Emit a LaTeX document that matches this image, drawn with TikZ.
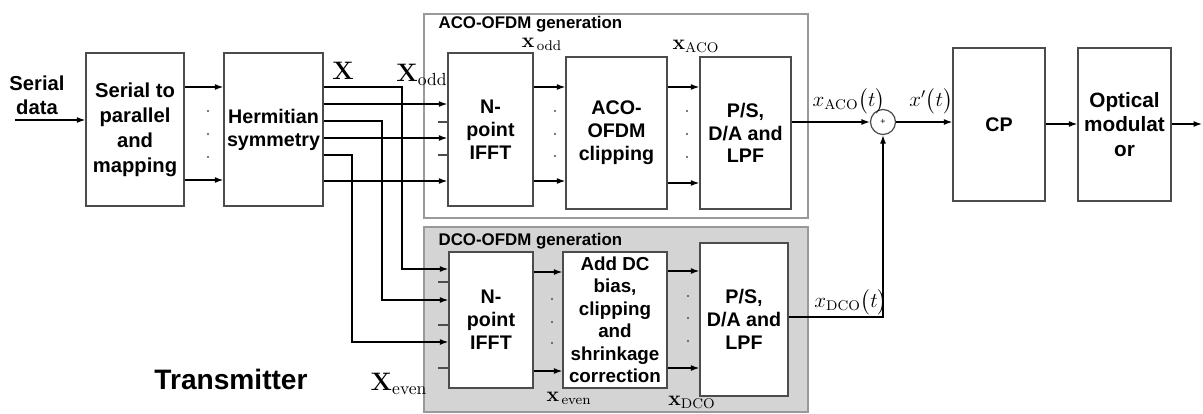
\documentclass[tikz,border=0pt]{standalone}
\usepackage{amsmath}
\usepackage[no-math]{fontspec}
\setmainfont{Liberation Sans}
\usetikzlibrary{arrows.meta,positioning}

\begin{document}
\begin{tikzpicture}[
    x=0.02cm, y=-0.02cm,
    blk/.style={draw=black!70, line width=0.8pt, fill=white, align=center, inner sep=1pt, font=\fontsize{11.2}{13}\selectfont\bfseries},
    grp/.style={draw=black!40, line width=0.9pt, inner sep=0pt},
    ttl/.style={anchor=west, inner sep=0pt, font=\fontsize{9.6}{11}\selectfont\bfseries},
    sig/.style={inner sep=0pt, font=\fontsize{14}{16}\selectfont},
    sml/.style={inner sep=0pt, font=\fontsize{11.5}{13}\selectfont},
    tick/.style={draw=black!70, line width=0.7pt},
    >={Latex[length=1.7mm,width=1.2mm]},
    every path/.style={line width=0.7pt}
]
\useasboundingbox (0,0) rectangle (1203,413);

% generation groups
\node[grp, minimum width=7.68cm, minimum height=4.08cm] (acoG) at (616,116) {};
\node[grp, fill=black!17, minimum width=7.68cm, minimum height=3.7cm] (dcoG) at (616,319.5) {};
\node[ttl] (acoT) at (438,24) {ACO-OFDM generation};
\node[ttl] (dcoT) at (438,241) {DCO-OFDM generation};

% blocks
\node[align=center, inner sep=0pt, font=\fontsize{11.5}{13.6}\selectfont\bfseries] (sd) at (37,95) {Serial\\data};
\node[blk, font=\fontsize{11.5}{14.2}\selectfont\bfseries, minimum width=1.96cm, minimum height=3.06cm] (sp) at (135,129.5) {Serial to\\parallel\\and\\mapping};
\node[blk, minimum width=1.98cm, minimum height=3.06cm] (herm) at (273.5,129.5) {Hermitian\\symmetry};

\node[blk, minimum width=1.7cm, minimum height=3.06cm] (ifftA) at (490.5,129.5) {N-\\point\\IFFT};
\node[blk, minimum width=2.02cm, minimum height=3.04cm] (clipA) at (616.5,133) {ACO-\\OFDM\\clipping};
\node[blk, minimum width=1.82cm, minimum height=3.04cm] (psA) at (745.5,133) {P/S,\\D/A and\\LPF};

\node[blk, minimum width=1.68cm, minimum height=2.72cm] (ifftD) at (491,320) {N-\\point\\IFFT};
\node[blk, font=\fontsize{10.7}{12.8}\selectfont\bfseries, minimum width=2.08cm, minimum height=2.72cm] (dcD) at (615,320) {Add DC\\bias,\\clipping\\and\\shrinkage\\correction};
\node[blk, minimum width=1.76cm, minimum height=3.06cm] (psD) at (744,319.5) {P/S,\\D/A and\\LPF};

\node[circle, draw=black!70, line width=0.7pt, minimum size=0.5cm, inner sep=0pt, font=\fontsize{5}{6}\selectfont] (sum) at (883,122) {+};
\node[blk, minimum width=1.84cm, minimum height=3.06cm] (cp) at (999,124.5) {CP};
\node[blk, font=\fontsize{11.8}{14}\selectfont\bfseries, minimum width=1.86cm, minimum height=3.06cm] (opt) at (1124.5,124.5) {Optical\\modulat\\or};

\node[font=\fontsize{16}{19}\selectfont\bfseries, inner sep=0pt] (tx) at (231,379) {Transmitter};

% signal labels
\node[sig] (lX) at (343,71) {$\mathbf{X}$};
\node[sig] (lXodd) at (422,75) {$\mathbf{X}_{\mathrm{odd}}$};
\node[sig] (lXeven) at (399,384) {$\mathbf{X}_{\mathrm{even}}$};
\node[sml] (lxodd) at (542,44) {$\mathbf{x}_{\,\mathrm{odd}}$};
\node[sml] (lxaco) at (696,46) {$\mathbf{x}_{\mathrm{ACO}}$};
\node[sml] (lxeven) at (569,398) {$\mathbf{x}_{\,\mathrm{even}}$};
\node[sml] (lxdco) at (692,402) {$\mathbf{x}_{\mathrm{DCO}}$};
\node[sml] (lacot) at (849,101) {$x_{\mathrm{ACO}}\bigl(t\bigr)$};
\node[sml] (lxt) at (931,101) {$x'\bigl(t\bigr)$};
\node[sml] (ldcot) at (851,302) {$x_{\mathrm{DCO}}\bigl(t\bigr)$};

% serial input
\coordinate (src) at (15,120);
\draw[->] (src) -- (src -| sp.west);

% parallel streams
\foreach \y in {87,180}
  \draw[->] (sp.east |- 0,\y) -- (herm.west |- 0,\y);
\foreach \y in {104,138,181}
  \draw[->] (herm.east |- 0,\y) -- (ifftA.west |- 0,\y);
\draw[->] (herm.east |- 0,87) -| (402,269) -- (ifftD.west |- 0,269);
\draw[->] (herm.east |- 0,121) -| (382,300) -- (ifftD.west |- 0,300);
\draw[->] (herm.east |- 0,155) -| (352,342) -- (ifftD.west |- 0,342);

% zero inputs
\foreach \y in {122,155}
  \draw[tick] (438,\y) -- (ifftA.west |- 0,\y);
\foreach \y in {282,325,368}
  \draw[tick] (438,\y) -- (ifftD.west |- 0,\y);

% ACO branch
\foreach \y in {87,181}
  \draw[->] (ifftA.east |- 0,\y) -- (clipA.west |- 0,\y);
\foreach \y in {87,183}
  \draw[->] (clipA.east |- 0,\y) -- (psA.west |- 0,\y);
\draw[->] (psA.east |- sum) -- (sum.west);

% DCO branch
\foreach \y in {272,371}
  \draw[->] (ifftD.east |- 0,\y) -- (dcD.west |- 0,\y);
\foreach \y in {271,368}
  \draw[->] (dcD.east |- 0,\y) -- (psD.west |- 0,\y);
\draw[->] (psD.east |- 0,317) -| (sum.south);

% output chain
\draw[->] (sum.east) -- (cp.west |- sum);
\draw[->] (cp.east |- 0,124) -- (opt.west |- 0,124);
\coordinate (out) at (1202,124);
\draw[->] (opt.east |- out) -- (out);

% dots
\foreach \x/\y in {208/111,208/134,208/157,555/111,555/134,555/156,687/111,687/134,687/157,
                   552/299,552/322,552/343,688/296,688/318,688/341}
  \fill[black!70] (\x,\y) circle (0.6pt);

\end{tikzpicture}
\end{document}
